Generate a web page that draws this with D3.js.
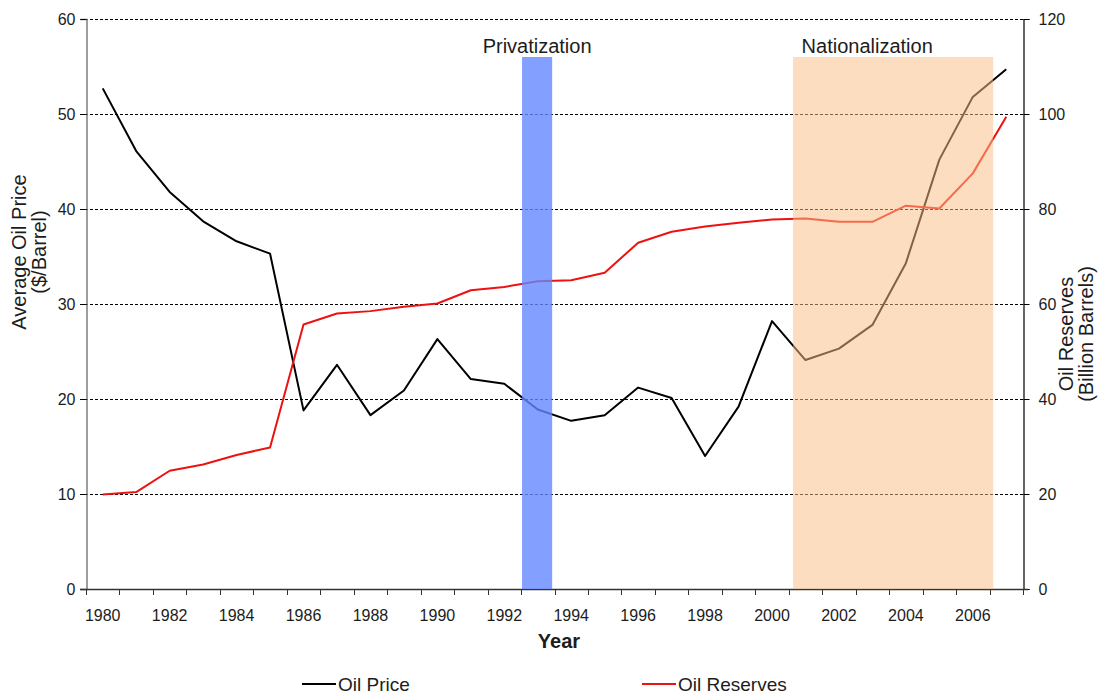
<!DOCTYPE html>
<html>
<head>
<meta charset="utf-8">
<script src="https://cdn.jsdelivr.net/npm/d3@7"></script>
<style>
  html, body { margin: 0; padding: 0; background: #fff; }
  svg { display: block; font-family: "Liberation Sans", Arial, sans-serif; }
</style>
</head>
<body>
<svg id="chart" width="1106" height="694"></svg>
<script>
// Years on the category axis
const years = d3.range(1980, 2008);
// Average oil price, $/barrel (left axis)
const oilPrice = [52.7, 46.1, 41.8, 38.7, 36.6, 35.3, 18.8, 23.6, 18.3, 20.9,
                  26.3, 22.1, 21.6, 18.9, 17.7, 18.3, 21.2, 20.1, 14.0, 19.2,
                  28.2, 24.1, 25.3, 27.8, 34.3, 45.2, 51.8, 54.7];
// Proven oil reserves, billion barrels (right axis)
const oilReserves = [19.9, 20.4, 24.9, 26.2, 28.2, 29.8, 55.7, 58.0, 58.5, 59.4,
                     60.1, 62.9, 63.6, 64.8, 65.0, 66.6, 72.9, 75.2, 76.3, 77.1,
                     77.8, 78.0, 77.3, 77.3, 80.7, 80.1, 87.5, 99.4];
// Tick values
const leftTicks = [0, 10, 20, 30, 40, 50, 60];
const rightTicks = [0, 20, 40, 60, 80, 100, 120];
const yearLabels = years.filter(y => y % 2 === 0);
// Policy periods (in years) shaded on the chart
const periods = [
  { name: "Privatization",   start: 1992.53, end: 1993.43, upTo: 56 },
  { name: "Nationalization", start: 2000.63, end: 2006.61, upTo: 56 }
];

(function draw() {
  const svg = d3.select("#chart");
  const plotLeft = 86, plotRight = 1023, plotTop = 19, plotBottom = 589;
  const textColor = "#1c1c1c";

  const x = d3.scaleLinear().domain([1979.5, 2007.5]).range([plotLeft, plotRight]);
  const yL = d3.scaleLinear().domain([0, 60]).range([plotBottom, plotTop]);
  const yR = d3.scaleLinear().domain([0, 120]).range([plotBottom, plotTop]);

  // Dashed gridlines (extend over the tick stubs on both sides)
  svg.append("g").selectAll("line")
    .data(leftTicks.filter(v => v > 0))
    .join("line")
    .attr("x1", plotLeft - 6).attr("x2", plotRight + 6)
    .attr("y1", d => Math.round(yL(d)) + 0.5).attr("y2", d => Math.round(yL(d)) + 0.5)
    .attr("stroke", "#000").attr("stroke-width", 1)
    .attr("stroke-dasharray", "3,2");

  // Left axis
  const gL = svg.append("g").attr("transform", `translate(${plotLeft + 0.5},0)`)
    .call(d3.axisLeft(yL).tickValues(leftTicks).tickSize(6).tickPadding(5));
  gL.select(".domain").attr("stroke", "#7f7f7f").attr("stroke-width", 1.5);
  gL.selectAll(".tick line").attr("stroke", "#000");
  gL.selectAll("text").attr("font-size", 16).attr("fill", textColor)
    .attr("font-family", "'Liberation Sans', Arial, sans-serif");

  // Right axis
  const gR = svg.append("g").attr("transform", `translate(${plotRight + 0.5},0)`)
    .call(d3.axisRight(yR).tickValues(rightTicks).tickSize(6).tickPadding(9));
  gR.select(".domain").attr("stroke", "#000").attr("stroke-width", 1.2);
  gR.selectAll(".tick line").attr("stroke", "#000");
  gR.selectAll("text").attr("font-size", 16).attr("fill", textColor)
    .attr("font-family", "'Liberation Sans', Arial, sans-serif");

  // Bottom axis: ticks at year boundaries, labels under even years
  const gB = svg.append("g");
  gB.append("line")
    .attr("x1", plotLeft - 6).attr("x2", plotRight + 5)
    .attr("y1", plotBottom + 0.5).attr("y2", plotBottom + 0.5)
    .attr("stroke", "#333").attr("stroke-width", 1.5);
  gB.selectAll("line.tk")
    .data(d3.range(1979.5, 2008, 1))
    .join("line").attr("class", "tk")
    .attr("x1", d => Math.round(x(d)) + 0.5).attr("x2", d => Math.round(x(d)) + 0.5)
    .attr("y1", plotBottom).attr("y2", plotBottom + 6)
    .attr("stroke", "#333").attr("stroke-width", 1);
  gB.selectAll("text")
    .data(yearLabels)
    .join("text")
    .attr("x", d => x(d)).attr("y", 621)
    .attr("text-anchor", "middle")
    .attr("font-size", 16).attr("fill", textColor)
    .text(d => d);

  // Series lines
  const priceLine = d3.line().x((d, i) => x(years[i])).y(d => yL(d));
  const reserveLine = d3.line().x((d, i) => x(years[i])).y(d => yR(d));

  svg.append("path").datum(oilPrice)
    .attr("d", priceLine)
    .attr("fill", "none").attr("stroke", "#000").attr("stroke-width", 2)
    .attr("stroke-linejoin", "round");
  svg.append("path").datum(oilReserves)
    .attr("d", reserveLine)
    .attr("fill", "none").attr("stroke", "#ee1111").attr("stroke-width", 2)
    .attr("stroke-linejoin", "round");

  // Shaded policy periods
  const bandColors = { "Privatization": ["#6487ff", 0.8], "Nationalization": ["#f9be85", 0.52] };
  svg.append("g").selectAll("rect")
    .data(periods)
    .join("rect")
    .attr("x", d => x(d.start))
    .attr("width", d => x(d.end) - x(d.start))
    .attr("y", d => yL(d.upTo))
    .attr("height", d => yL(0) - yL(d.upTo))
    .attr("fill", d => bandColors[d.name][0])
    .attr("fill-opacity", d => bandColors[d.name][1]);

  // Period labels
  svg.append("text").attr("x", x((periods[0].start + periods[0].end) / 2)).attr("y", 53)
    .attr("text-anchor", "middle").attr("font-size", 20).attr("fill", textColor)
    .text(periods[0].name);
  svg.append("text").attr("x", x(periods[1].start) + 8.5).attr("y", 53)
    .attr("text-anchor", "start").attr("font-size", 20).attr("fill", textColor)
    .text(periods[1].name);

  // Axis titles
  const leftTitle = svg.append("text")
    .attr("transform", "translate(26,252) rotate(-90)")
    .attr("text-anchor", "middle").attr("font-size", 20).attr("fill", textColor);
  leftTitle.append("tspan").attr("x", 0).attr("dy", 0).text("Average Oil Price");
  leftTitle.append("tspan").attr("x", 0).attr("dy", 20).text("($/Barrel)");

  const rightTitle = svg.append("text")
    .attr("transform", "translate(1073,334) rotate(-90)")
    .attr("text-anchor", "middle").attr("font-size", 20).attr("fill", textColor);
  rightTitle.append("tspan").attr("x", 0).attr("dy", 0).text("Oil Reserves");
  rightTitle.append("tspan").attr("x", 0).attr("dy", 20).text("(Billion Barrels)");

  svg.append("text").attr("x", 559).attr("y", 648)
    .attr("text-anchor", "middle").attr("font-size", 20).attr("font-weight", "bold")
    .attr("fill", textColor).text("Year");

  // Legend
  const legend = [
    { name: "Oil Price", color: "#000", x: 302 },
    { name: "Oil Reserves", color: "#ee1111", x: 642 }
  ];
  const lg = svg.append("g").selectAll("g").data(legend).join("g");
  lg.append("line")
    .attr("x1", d => d.x).attr("x2", d => d.x + 34)
    .attr("y1", 684).attr("y2", 684)
    .attr("stroke", d => d.color).attr("stroke-width", 2);
  lg.append("text")
    .attr("x", d => d.x + 36).attr("y", 691)
    .attr("font-size", 19).attr("fill", textColor)
    .text(d => d.name);
})();
</script>
</body>
</html>
